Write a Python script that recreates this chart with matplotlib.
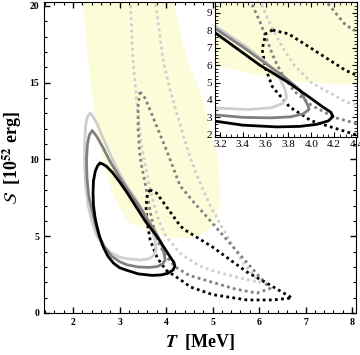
import matplotlib
matplotlib.use('Agg')
import matplotlib.pyplot as plt
import numpy as np

plt.rcParams['font.family'] = 'Liberation Serif'
plt.rcParams['mathtext.fontset'] = 'stix'

# banda amarilla (region permitida)
band_T = [2.21, 2.32, 2.50, 2.73, 2.86, 2.97, 3.07, 3.16, 3.35, 3.55, 3.80, 3.98, 4.20, 4.40,
          4.60, 4.80, 4.95, 5.07, 5.14, 5.17, 5.12, 4.95, 4.73, 4.45, 4.13]
band_S = [20.5, 16.5, 12.0, 9.0, 7.7, 7.0, 6.5, 6.0, 5.7, 5.44, 5.15, 4.98, 4.90, 4.86,
          4.95, 5.18, 5.55, 6.10, 6.90, 8.0, 10.0, 12.0, 14.5, 16.5, 20.5]

# curvas solidas (cerradas)
light_T = [2.37, 2.31, 2.27, 2.25, 2.25, 2.27, 2.32, 2.40, 2.50, 2.63, 2.80, 3.00, 3.16, 3.45,
           3.65, 3.75, 3.785, 3.77, 3.72, 3.60, 3.40, 3.16, 2.98, 2.82, 2.66, 2.52, 2.42, 2.37]
light_S = [13.0, 12.8, 12.2, 11.0, 9.6, 8.3, 7.1, 6.0, 5.1, 4.45, 3.95, 3.65, 3.54, 3.45,
           3.55, 3.8, 4.15, 4.6, 5.3, 6.2, 7.2, 8.25, 9.2, 10.2, 11.3, 12.3, 12.85, 13.0]
mid_T = [2.41, 2.35, 2.31, 2.29, 2.30, 2.34, 2.40, 2.47, 2.56, 2.68, 2.83, 3.00, 3.16, 3.40,
         3.65, 3.82, 3.93, 3.98, 3.97, 3.90, 3.75, 3.60, 3.40, 3.16, 2.98, 2.80, 2.64, 2.52,
         2.45, 2.41]
mid_S = [11.85, 11.6, 11.0, 10.0, 8.8, 7.6, 6.8, 5.9, 5.0, 4.3, 3.7, 3.35, 3.14, 3.0,
         2.97, 3.03, 3.2, 3.45, 3.7, 4.57, 5.4, 6.1, 7.05, 8.1, 8.95, 9.85, 10.8, 11.45,
         11.75, 11.85]
dark_T = [2.58, 2.53, 2.48, 2.44, 2.43, 2.44, 2.47, 2.51, 2.57, 2.65, 2.75, 2.87, 3.00, 3.16,
          3.40, 3.70, 3.90, 4.05, 4.15, 4.19, 4.17, 4.10, 3.98, 3.80, 3.55, 3.35, 3.16, 3.00,
          2.85, 2.72, 2.63, 2.58]
dark_S = [9.75, 9.6, 9.25, 8.6, 7.8, 7.0, 6.3, 5.7, 5.0, 4.3, 3.7, 3.25, 2.95, 2.78,
          2.55, 2.45, 2.48, 2.6, 2.8, 3.05, 3.3, 3.6, 4.17, 5.0, 6.0, 6.95, 7.85, 8.55,
          9.15, 9.55, 9.72, 9.75]

# curvas punteadas
dlight_T = [3.23, 3.29, 3.38, 3.47, 3.55, 3.65, 3.75, 3.85, 4.00, 4.30, 4.70, 5.00, 5.50,
            5.85, 6.02, 5.90, 5.70, 5.45, 5.20, 4.95, 4.70, 4.50, 4.30, 4.09, 3.94, 3.76]
dlight_S = [20.6, 16.4, 13.5, 11.0, 9.7, 8.2, 7.0, 6.0, 5.0, 3.9, 3.1, 2.75, 2.35,
            2.1, 2.0, 2.4, 3.1, 4.3, 5.6, 7.0, 8.7, 10.3, 12.3, 14.5, 16.4, 20.6]
dmid_T = [3.44, 3.40, 3.40, 3.43, 3.48, 3.55, 3.62, 3.68, 3.75, 3.85, 4.00, 4.20, 4.50,
          5.00, 5.50, 5.96, 6.24, 6.00, 5.50, 5.00, 4.60, 4.30, 4.05, 3.85, 3.66, 3.55, 3.44]
dmid_S = [14.4, 13.5, 12.0, 10.5, 9.5, 8.5, 7.3, 6.3, 5.4, 4.5, 3.7, 3.0, 2.45,
          2.0, 1.55, 1.3, 1.6, 2.4, 4.1, 5.85, 7.2, 8.3, 10.3, 11.8, 13.2, 14.0, 14.4]
ddark_T = [3.66, 3.60, 3.57, 3.60, 3.66, 3.81, 4.00, 4.39, 4.52, 5.00, 5.74, 6.30, 6.71,
           6.24, 5.74, 5.00, 4.39, 4.30, 3.98, 3.80, 3.66]
ddark_S = [8.02, 7.8, 6.9, 5.8, 4.75, 3.6, 2.8, 2.0, 1.7, 1.2, 0.85, 0.85, 0.98,
           1.82, 2.67, 4.3, 5.44, 5.7, 7.05, 7.8, 8.02]

yellow = '#fdfcd8'
c_light, c_mid, c_dark = '#cfcfcf', '#808080', 'black'
dots = (0, (1, 1.2))


def dibujar(ax):
    ax.fill(band_T, band_S, color=yellow, lw=0, zorder=0)
    ax.plot(dlight_T, dlight_S, color=c_light, lw=2, ls=dots)
    ax.plot(dmid_T, dmid_S, color=c_mid, lw=2, ls=dots)
    ax.plot(ddark_T, ddark_S, color=c_dark, lw=2, ls=dots)
    ax.plot(light_T, light_S, color=c_light, lw=2)
    ax.plot(mid_T, mid_S, color=c_mid, lw=2)
    ax.plot(dark_T, dark_S, color=c_dark, lw=2)
    ax.tick_params(which='both', direction='in', top=True, right=True)


fig = plt.figure(figsize=(3.6, 3.55), dpi=100)
ax = fig.add_axes([44/360, 42/355, 312/360, 311/355])
dibujar(ax)
ax.set_xlim(1.376, 8.086)
ax.set_ylim(0, 20.26)
ax.set_xticks([2, 3, 4, 5, 6, 7, 8])
ax.set_xticks(np.arange(1.4, 8.1, 0.2), minor=True)
ax.set_yticks([0, 5, 10, 15, 20])
ax.set_yticks(np.arange(0, 20.3, 1), minor=True)
ax.tick_params(which='major', length=4, width=1, labelsize=7)
ax.tick_params(which='minor', length=2.5, width=0.8)
for lab in ax.get_xticklabels() + ax.get_yticklabels():
    lab.set_fontweight('bold')
ax.set_xlabel(r'$\boldsymbol{T}$  [MeV]', fontsize=13, fontweight='bold', labelpad=4)
ax.set_ylabel(r'$\mathcal{S}$  [10$^{\mathbf{52}}$ erg]', fontsize=13, fontweight='bold', labelpad=4)

# inset
axi = fig.add_axes([215/360, 218/355, 142/360, 135/355])
dibujar(axi)
axi.set_xlim(3.157, 4.39)
axi.set_ylim(1.87, 9.63)
axi.set_xticks([3.2, 3.4, 3.6, 3.8, 4.0, 4.2, 4.4])
axi.set_xticklabels(['3.2', '3.4', '3.6', '3.8', '4.0', '4.2', '4.4'])
axi.set_xticks(np.arange(3.2, 4.4, 0.05), minor=True)
axi.set_yticks(range(2, 10))
axi.set_yticks(np.arange(2, 9.6, 0.2), minor=True)
axi.tick_params(which='major', length=3.5, labelsize=8, pad=2)
axi.tick_params(which='minor', length=2)

fig.savefig('out.png', dpi=100)
